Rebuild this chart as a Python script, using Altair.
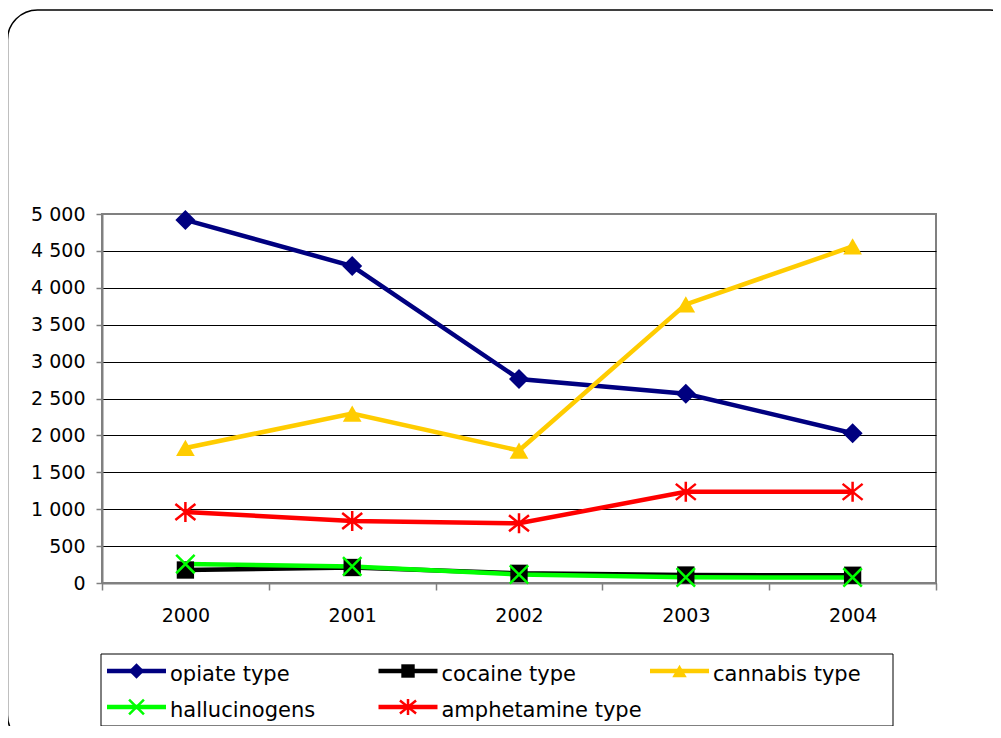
import altair as alt
import pandas as pd

# ---------------- data ----------------
years = ["2000", "2001", "2002", "2003", "2004"]
series_names = ["opiate type", "cocaine type", "cannabis type", "hallucinogens", "amphetamine type"]
opiate = [4920, 4295, 2765, 2565, 2030]
cocaine = [176, 210, 131, 108, 105]
cannabis = [1830, 2295, 1795, 3775, 4560]
hallucinogens = [257, 225, 115, 77, 75]
amphetamine = [962, 840, 809, 1235, 1235]
y_ticks = [0, 500, 1000, 1500, 2000, 2500, 3000, 3500, 4000, 4500, 5000]
legend_col = [0, 1, 2, 0, 1]
legend_row = [0, 0, 0, 1, 1]

all_values = [opiate, cocaine, cannabis, hallucinogens, amphetamine]

# ---------------- styles ----------------
colors = ["#000080", "#000000", "#FFCC00", "#00FF00", "#FF0000"]
X_PATH = "M-1,-1L1,1M-1,1L1,-1"
STAR_PATH = "M0,-1L0,1M-1,-0.8L1,0.8M-1,0.8L1,-0.8"
markers = [
    dict(shape="diamond", filled=True, size=400, strokeWidth=0),
    dict(shape="square", filled=True, size=300, strokeWidth=0),
    dict(shape="triangle-up", filled=True, size=350, strokeWidth=0),
    dict(shape=X_PATH, filled=False, size=340, strokeWidth=2.5),
    dict(shape=STAR_PATH, filled=False, size=400, strokeWidth=2.5),
]

rows = []
for name, vals in zip(series_names, all_values):
    for yr, v in zip(years, vals):
        rows.append({"year": yr, "series": name, "value": v})
df = pd.DataFrame(rows)

FONT = "DejaVu Sans"

x_enc = alt.X(
    "year:O",
    sort=years,
    bandPosition=0.5,
    scale=alt.Scale(type="band", paddingInner=0, paddingOuter=0),
    axis=alt.Axis(
        title=None,
        grid=False,
        tickBand="extent",
        domainColor="#808080",
        domainWidth=2,
        tickColor="#808080",
        tickWidth=1.5,
        tickSize=7,
        labelFontSize=19,
        labelColor="#000000",
        labelFont=FONT,
        labelPadding=16,
        labelAngle=0,
    ),
)
y_enc = alt.Y(
    "value:Q",
    scale=alt.Scale(domain=[0, 5000], nice=False),
    axis=alt.Axis(
        title=None,
        values=y_ticks,
        labelExpr="replace(format(datum.value, ','), ',', ' ')",
        grid=True,
        gridColor={"condition": {"test": "datum.value === 5000", "value": "#808080"}, "value": "#000000"},
        gridWidth=1,
        domainColor="#808080",
        domainWidth=2,
        tickColor="#808080",
        tickWidth=1.5,
        tickSize=6,
        labelFontSize=19,
        labelColor="#000000",
        labelFont=FONT,
        labelPadding=11,
    ),
)

line_layers = []
point_layers = []
for name, col, mk in zip(series_names, colors, markers):
    base = alt.Chart(df).transform_filter(alt.datum.series == name)
    line_layers.append(
        base.mark_line(color=col, strokeWidth=4.5).encode(x=x_enc, y=y_enc)
    )
    if mk["filled"]:
        pt = base.mark_point(shape=mk["shape"], filled=True, size=mk["size"],
                             color=col, opacity=1, strokeWidth=0)
    else:
        pt = base.mark_point(shape=mk["shape"], filled=False, size=mk["size"],
                             color=col, opacity=1, strokeWidth=mk["strokeWidth"])
    point_layers.append(pt.encode(x=x_enc, y=y_enc))

main = alt.layer(*line_layers, *point_layers)

# ---------------- legend ----------------
leg = pd.DataFrame({"series": series_names, "col": legend_col, "row": legend_row})
lx_scale = alt.Scale(domain=[0, 3], range=[5, 819.5])
lx = alt.X("col:Q", scale=lx_scale, axis=None)
ly = alt.Y("row:Q", scale=alt.Scale(domain=[0, 1], range=[457, 493]), axis=None)
lcolor = alt.Color("series:N", scale=alt.Scale(domain=series_names, range=colors), legend=None)

legend_box = alt.Chart(alt.Data(values=[{}])).mark_rect(
    fill="white", stroke="#000000", strokeWidth=1
).encode(x=alt.value(-1), x2=alt.value(791), y=alt.value(440), y2=alt.value(512))

legend_lines = alt.Chart(leg).transform_calculate(
    col2="datum.col + 0.2173"
).mark_rule(strokeWidth=4.5).encode(x=lx, x2="col2:Q", y=ly, color=lcolor)

legend_points = []
for name, col, mk in zip(series_names, colors, markers):
    b = alt.Chart(leg).transform_filter(alt.datum.series == name).transform_calculate(
        cx="datum.col + 0.1087"
    )
    if mk["filled"]:
        p = b.mark_point(shape=mk["shape"], filled=True, size=mk["size"] * 0.6,
                         color=col, opacity=1, strokeWidth=0)
    else:
        p = b.mark_point(shape=mk["shape"], filled=False, size=mk["size"] * 0.65,
                         color=col, opacity=1, strokeWidth=2.5)
    legend_points.append(
        p.encode(x=alt.X("cx:Q", scale=lx_scale, axis=None), y=ly)
    )

legend_text = alt.Chart(leg).mark_text(
    align="left", baseline="alphabetic", dx=63, dy=9.5, fontSize=21, font=FONT, color="#000000"
).encode(x=lx, y=ly, text="series:N")

legend = alt.layer(legend_box, legend_lines, *legend_points, legend_text)

# ---------------- outer rounded frame ----------------
frame = alt.Chart(alt.Data(values=[{}])).mark_rect(
    fill="transparent", stroke="#000000", strokeWidth=1.5, cornerRadius=30
).encode(x=alt.value(-94.5), x2=alt.value(918), y=alt.value(-204), y2=alt.value(531))

chart = alt.layer(frame, main, legend).resolve_scale(
    x="independent", y="independent", color="independent"
).properties(
    width=834,
    height=369,
    autosize=alt.AutoSizeParams(type="none"),
    padding={"left": 94, "top": 206, "right": 57, "bottom": 143},
).configure(
    font=FONT,
).configure_view(
    stroke="#808080", strokeWidth=2
)

chart.save("out.html", embed_options={"renderer": "svg", "actions": False})
